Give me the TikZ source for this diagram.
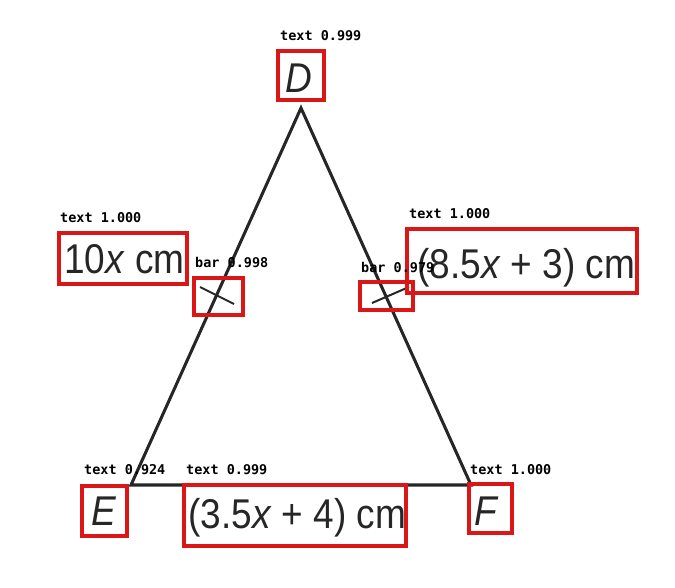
\documentclass[tikz,border=0pt]{standalone}
\usepackage{fontspec}
\newfontfamily\lblfont[FakeStretch=0.89]{Liberation Sans}
\newfontfamily\detfont{DejaVu Sans Mono}
\definecolor{boxred}{RGB}{218,22,22}
\definecolor{edge}{RGB}{38,38,38}
\tikzset{
  side/.style={draw=edge,line width=2.6pt,line join=miter},
  tick/.style={draw=edge,line width=1.7pt},
  detbox/.style={draw=boxred,line width=2.6pt},
  lbl/.style={inner sep=0pt,anchor=base west,font=\lblfont\fontsize{35.5}{36}\selectfont,text=edge},
  det/.style={inner sep=0pt,anchor=base west,font=\detfont\bfseries\fontsize{11.5}{12}\selectfont}
}
\begin{document}
\begin{tikzpicture}[x=0.03cm,y=-0.03cm]
            \useasboundingbox (0,0) rectangle (675,587);
            
            \coordinate (D) at (301,108);
            \coordinate (E) at (131,485);
            \coordinate (F) at (471,485);
            \draw[side] (D) -- (E) -- (F) -- cycle;
            
            \draw[tick] (200,287) -- (234,304);
            \draw[tick] (372,303) -- (409,287);
            
            \node[lbl] (d) at (285,92) {\textit{D}};
            \node[lbl] (e) at (91,525) {\textit{E}};
            \node[lbl] (f) at (474,525) {\textit{F}};
            \node[lbl] (de) at (64,273) {10\textit{x} cm};
            \node[lbl] (df) at (417,278) {(8.5\textit{x} + 3) cm};
            \node[lbl] (ef) at (188,528) {(3.5\textit{x} + 4) cm};
            
            \draw[detbox] (278,51) rectangle (324,100);
            \draw[detbox] (59,233) rectangle (187,284);
            \draw[detbox] (194,278) rectangle (243,315);
            \draw[detbox] (407,229) rectangle (637,293);
            \draw[detbox] (360,282) rectangle (413,310);
            \draw[detbox] (82,486) rectangle (127,536);
            \draw[detbox] (184,485) rectangle (406,546);
            \draw[detbox] (469,484) rectangle (512,533);
            
            \node[det] (t1) at (280,40) {text 0.999};
            \node[det] (t2) at (60,222) {text 1.000};
            \node[det] (t3) at (195,267) {bar 0.998};
            \node[det] (t4) at (409,218) {text 1.000};
            \node[det] (t5) at (361,272) {bar 0.979};
            \node[det] (t6) at (84,474) {text 0.924};
            \node[det] (t7) at (186,474) {text 0.999};
            \node[det] (t8) at (470,474) {text 1.000};
            
        \end{tikzpicture}
\end{document}
